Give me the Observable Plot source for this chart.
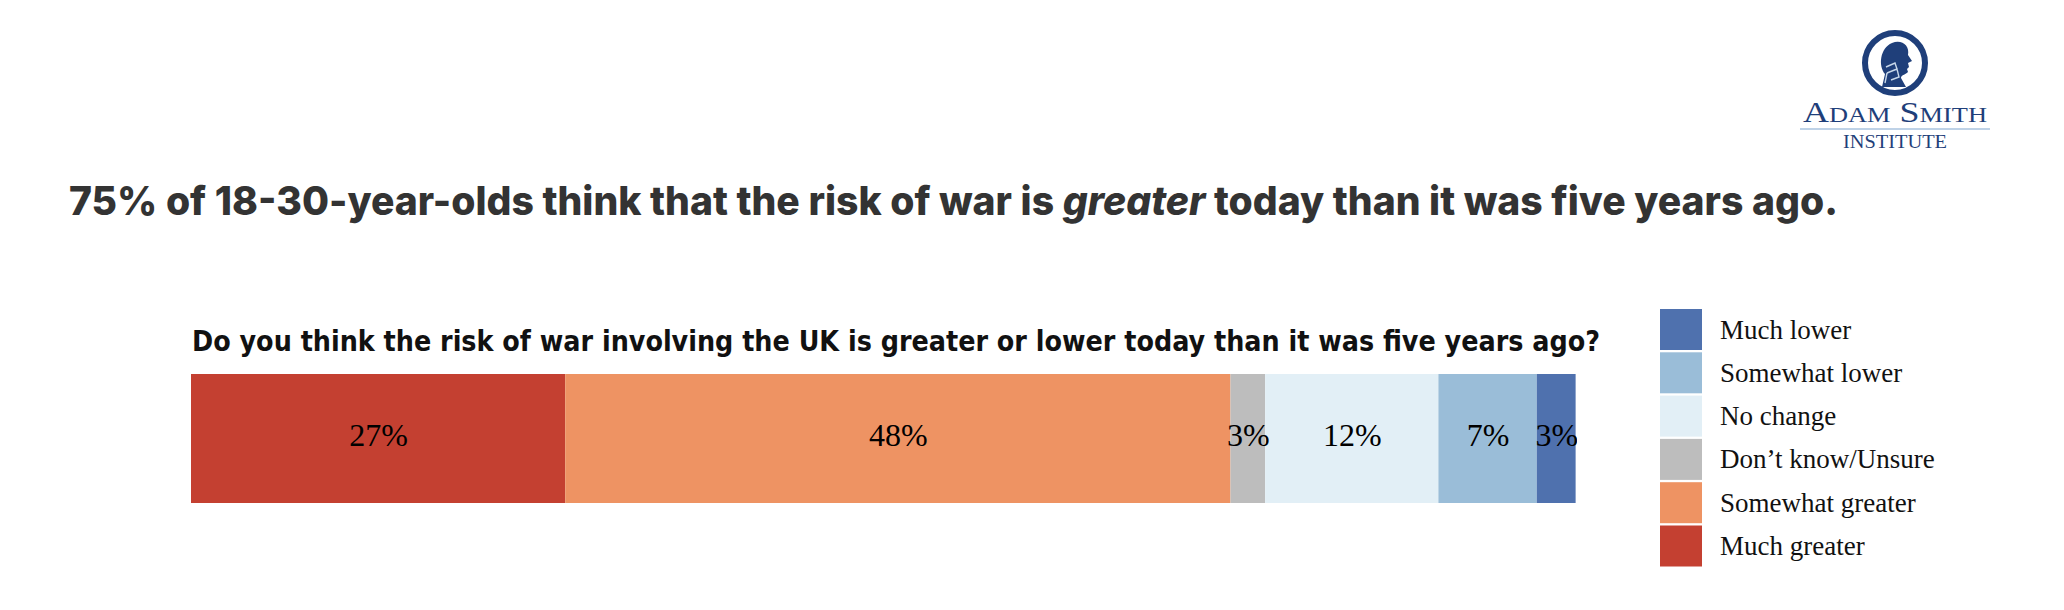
<!DOCTYPE html>
<html>
<head>
<meta charset="utf-8">
<script src="https://cdn.jsdelivr.net/npm/d3@7"></script>
<script src="https://cdn.jsdelivr.net/npm/@observablehq/plot@0.6"></script>
<style>
  html, body { margin: 0; padding: 0; background: #fff; }
  #wrap { position: relative; width: 2064px; height: 610px; overflow: hidden; background: #fff; }
  #overlay { position: absolute; left: 0; top: 0; }
  #chart { position: absolute; left: 191px; top: 374px; }
</style>
</head>
<body>
<div id="wrap">
  <svg id="overlay" width="2064" height="610" xmlns="http://www.w3.org/2000/svg">
    <!-- logo -->
    <g id="logo">
      <circle cx="1895" cy="63" r="30" fill="none" stroke="#1f3f7a" stroke-width="6"/>
      <path transform="translate(1895,63)" fill="#1f3f7a"
        d="M -13,24 L -10,11 C -17,3 -15,-15 -3,-20 C 7,-24 15,-17 13,-8 L 17,-2 L 13,0 L 14,4 L 12,6 L 13,9 C 10,12 6,12 6,15 L 11,24 Z"/>
      <path transform="translate(1895,63)" fill="none" stroke="#c8d8ea" stroke-width="1.4"
        d="M -9,4 L 0,0 L 2,6 L -8,10 M -8,10 L -10,20 M 2,6 L 4,14 L -4,17"/>
      <text x="1803" y="122" font-family="'Liberation Serif', serif" font-size="30" fill="#1f3f7a"
        textLength="184" lengthAdjust="spacingAndGlyphs">A<tspan font-size="22">DAM</tspan> S<tspan font-size="22">MITH</tspan></text>
      <line x1="1800" x2="1990" y1="129" y2="129" stroke="#a9c3df" stroke-width="1.5"/>
      <text x="1843" y="148" font-family="'Liberation Serif', serif" font-size="19" fill="#1f3f7a"
        textLength="104" lengthAdjust="spacingAndGlyphs">INSTITUTE</text>
    </g>
    <!-- title (three pieces, laid out by script) -->
    <g id="title" font-family="Inter, 'Open Sans', sans-serif" font-weight="800" font-size="40" fill="#333333"></g>
    <!-- subtitle -->
    <text x="192" y="351" font-family="'Liberation Sans Narrow', 'DejaVu Sans Condensed', 'Liberation Sans', sans-serif" font-weight="700" font-size="29" fill="#111111"
      textLength="1408" lengthAdjust="spacingAndGlyphs">Do you think the risk of war involving the UK is greater or lower today than it was five years ago?</text>
    <g id="legend"></g>
  </svg>
  <div id="chart"></div>
</div>
<script>
// ---- data ----
const categories = ["Much greater", "Somewhat greater", "Don’t know/Unsure", "No change", "Somewhat lower", "Much lower"];
const values = [27.0, 48.0, 2.5, 12.5, 7.1, 2.8];
const labels = ["27%", "48%", "3%", "12%", "7%", "3%"];
const colors = ["#C44031", "#EE9363", "#BDBDBD", "#E2EFF6", "#9ABDD8", "#4F71AE"];
const legendOrder = ["Much lower", "Somewhat lower", "No change", "Don’t know/Unsure", "Somewhat greater", "Much greater"];
const titleParts = [
  {text: "75% of 18-30-year-olds think that the risk of war is", italic: false},
  {text: "greater", italic: true},
  {text: "today than it was five years ago.", italic: false}
];

const data = categories.map((c, i) => ({category: c, value: values[i], label: labels[i]}));

const chart = Plot.plot({
  width: 1386,
  height: 129,
  margin: 0,
  style: {background: "transparent", fontFamily: "'Liberation Serif', serif"},
  x: {domain: [0, 100], axis: null},
  y: {axis: null},
  color: {domain: categories, range: colors},
  marks: [
    Plot.barX(data, Plot.stackX({x: "value", fill: "category", order: null})),
    Plot.text(data, Plot.stackX({
      x: "value", text: "label", order: null,
      fontSize: 32, fontFamily: "'Liberation Serif', serif", fill: "#000", dy: -3
    }))
  ]
});
document.getElementById("chart").appendChild(chart);

// ---- title layout: fit the three pieces into the reference span ----
(function () {
  const g = d3.select("#title");
  const x0 = 69, span = 1769, base = 215;
  const nodes = titleParts.map(p => g.append("text")
    .attr("x", x0).attr("y", base)
    .attr("font-style", p.italic ? "italic" : "normal")
    .text(p.text));
  const probe = g.append("text").attr("x", 0).attr("y", -100).text("a a");
  const probe2 = g.append("text").attr("x", 0).attr("y", -100).text("aa");
  const sp = probe.node().getComputedTextLength() - probe2.node().getComputedTextLength();
  probe.remove(); probe2.remove();
  const lens = nodes.map(n => n.node().getComputedTextLength());
  const total = lens.reduce((a, b) => a + b, 0) + sp * (lens.length - 1);
  const s = span / total;
  let x = x0;
  nodes.forEach((n, i) => {
    n.attr("x", x).attr("textLength", lens[i] * s).attr("lengthAdjust", "spacingAndGlyphs");
    x += (lens[i] + sp) * s;
  });
})();

// ---- legend ----
const color = d3.scaleOrdinal(categories, colors);
const legend = d3.select("#legend");
const rowH = 43.3, top0 = 309;
legendOrder.forEach((c, i) => {
  const y = top0 + i * rowH;
  legend.append("rect")
    .attr("x", 1660).attr("y", y).attr("width", 42).attr("height", 41)
    .attr("fill", color(c));
  legend.append("text")
    .attr("x", 1720).attr("y", y + 20.5 + 9)
    .attr("font-family", "'Liberation Serif', serif")
    .attr("font-size", 27)
    .attr("fill", "#111")
    .text(c);
});
</script>
</body>
</html>
